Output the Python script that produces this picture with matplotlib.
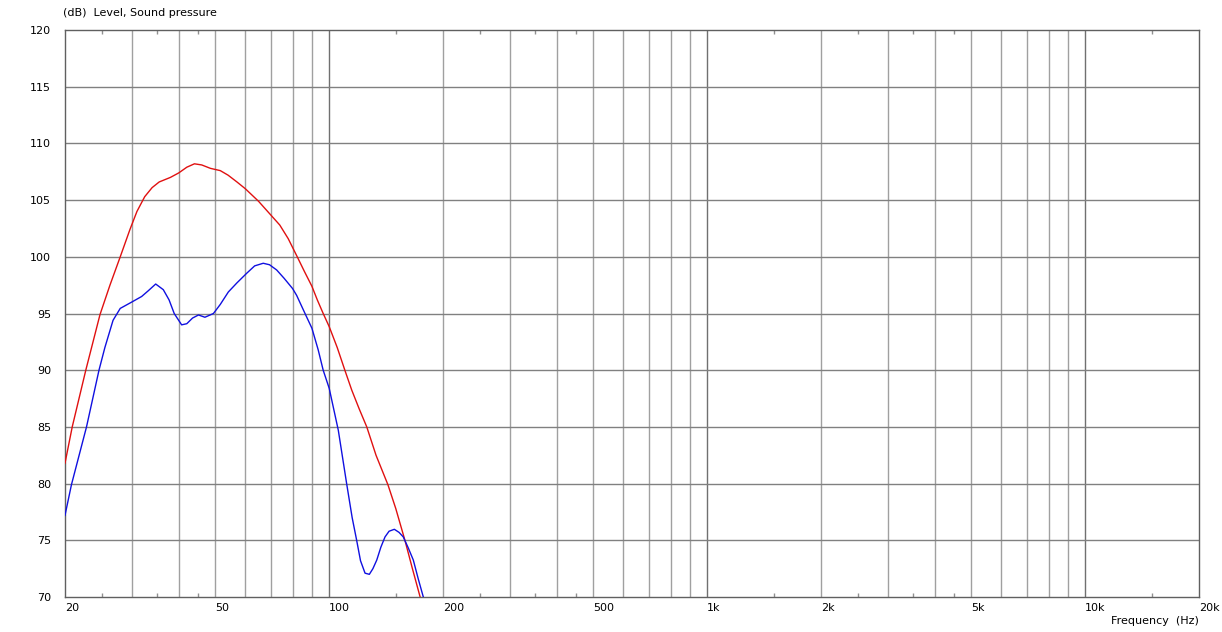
import matplotlib
matplotlib.use("Agg")
import matplotlib.pyplot as plt
from matplotlib.ticker import FixedLocator, NullFormatter

# ---- data ----
red_freq = [20, 20.9, 22.7, 24.75, 26.3, 28.0, 29.7, 31.0, 32.5, 34.0, 35.5, 38, 40, 42, 44, 46,
            48.5, 51.5, 54, 57, 60, 65, 70, 74, 77.9, 82.3, 86, 90, 93, 96.4, 100, 105, 110,
            114.7, 120, 125.7, 133, 143, 150, 158.6, 166, 174, 180]
red_db = [81.8, 85.0, 90.0, 94.9, 97.5, 100.0, 102.4, 104.0, 105.3, 106.1, 106.6, 107.0, 107.4,
          107.9, 108.2, 108.1, 107.8, 107.6, 107.2, 106.6, 106.0, 104.9, 103.7, 102.8, 101.6,
          100.0, 98.7, 97.4, 96.2, 95.0, 93.84, 92.0, 90.0, 88.25, 86.6, 85.0, 82.5, 79.9, 77.8,
          75.0, 72.5, 70.0, 68.0]

blue_freq = [20, 20.8, 22.8, 24.6, 25.5, 26.8, 28.0, 30.0, 31.9, 33.2, 34.75, 36.4, 37.7, 38.9,
             40.7, 42.0, 43.5, 45.1, 46.9, 49.4, 51.5, 54.1, 57, 60.5, 63.5, 66.9, 69.5, 72.6,
             76, 80, 82, 86.3, 90, 93.5, 96.4, 100, 105.7, 111.2, 115, 118.2, 121, 124.4, 127.7,
             130.5, 133.6, 137, 140.5, 144, 148.7, 153, 157, 162, 166.9, 172, 177.4, 182]
blue_db = [77.2, 79.9, 85.0, 90.0, 92.0, 94.4, 95.45, 96.0, 96.5, 97.0, 97.6, 97.1, 96.2, 95.0,
           94.0, 94.1, 94.6, 94.87, 94.67, 95.0, 95.8, 96.9, 97.7, 98.55, 99.2, 99.43, 99.3,
           98.84, 98.1, 97.2, 96.6, 95.0, 93.7, 91.8, 90.0, 88.4, 84.7, 80.0, 77.0, 75.0, 73.2,
           72.1, 72.0, 72.5, 73.26, 74.4, 75.3, 75.8, 75.97, 75.7, 75.3, 74.3, 73.26, 71.6,
           70.0, 68.5]

x_tick_vals = [20, 50, 100, 200, 500, 1000, 2000, 5000, 10000, 20000]
x_tick_labels = ["20", "50", "100", "200", "500", "1k", "2k", "5k", "10k", "20k"]
y_tick_vals = [70, 75, 80, 85, 90, 95, 100, 105, 110, 115, 120]
minor_grid = [30, 40, 50, 60, 70, 80, 90, 200, 300, 400, 500, 600, 700, 800, 900,
              2000, 3000, 4000, 5000, 6000, 7000, 8000, 9000]
major_grid = [100, 1000, 10000]
small_ticks = [25, 35, 45, 150, 250, 350, 450, 1500, 2500, 3500, 4500, 15000]

W, H = 1222, 632
fig = plt.figure(figsize=(W / 100, H / 100), dpi=100)
fig.patch.set_facecolor("white")
ax = fig.add_axes([65 / W, 35 / H, 1134 / W, 567 / H])
ax.set_xscale("log")
ax.set_xlim(20, 20000)
ax.set_ylim(70, 120)

for f in minor_grid:
    ax.axvline(f, color="#a0a0a0", lw=1.0, zorder=1)
for f in major_grid:
    ax.axvline(f, color="#707070", lw=1.0, zorder=1)
for v in y_tick_vals[1:-1]:
    ax.axhline(v, color="#808080", lw=1.0, zorder=1)

ax.plot(red_freq, red_db, color="#e01010", lw=1.0, zorder=3)
ax.plot(blue_freq, blue_db, color="#1010e0", lw=1.0, zorder=4)

for s in ax.spines.values():
    s.set_color("#606060")
    s.set_linewidth(1.0)

ax.xaxis.set_major_locator(FixedLocator(x_tick_vals))
ax.set_xticklabels(x_tick_labels)
ax.xaxis.set_minor_locator(FixedLocator(small_ticks))
ax.xaxis.set_minor_formatter(NullFormatter())
ax.tick_params(axis="x", which="major", length=0, pad=4, labelsize=8, colors="black")
ax.tick_params(axis="x", which="minor", direction="in", length=3, width=1,
               color="#909090", top=True, bottom=True)
for lab in ax.get_xticklabels():
    lab.set_horizontalalignment("left")

ax.set_yticks(y_tick_vals)
ax.set_yticklabels([str(v) for v in y_tick_vals])
ax.tick_params(axis="y", which="both", length=0, pad=10, labelsize=8, colors="black")
ax.yaxis.set_minor_locator(FixedLocator([]))

fig.text(63 / W, 1 - 13 / H, "(dB)  Level, Sound pressure", fontsize=8,
         ha="left", va="center", color="black")
fig.text(1199 / W, 1 - 621 / H, "Frequency  (Hz)", fontsize=8,
         ha="right", va="center", color="black")

fig.savefig("out.png", dpi=100, facecolor="white")
